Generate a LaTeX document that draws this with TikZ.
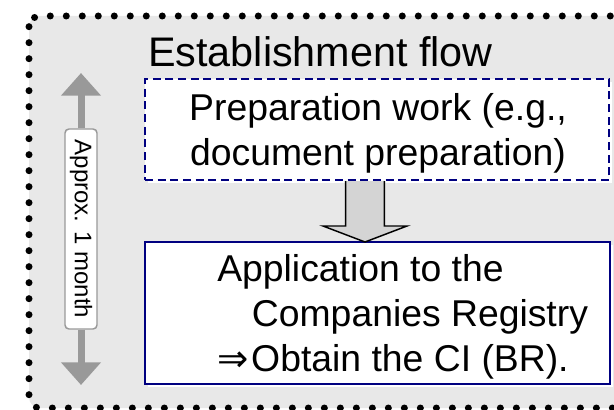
\documentclass[tikz,border=0pt]{standalone}
\usepackage{fontspec}
\setmainfont{Liberation Sans}
\newfontfamily\symfont{DejaVu Sans}
\usepackage{tikz}
\usetikzlibrary{
  arrows.meta,
  positioning,
  calc,
  shadows
}
\definecolor{panelgray}{RGB}{232,232,232}
\definecolor{framenavy}{RGB}{0,0,128}
\definecolor{spangray}{RGB}{153,153,153}
\definecolor{flowgray}{RGB}{212,212,212}

\begin{document}
\begin{tikzpicture}[
  x=0.75pt, y=-0.75pt,
  panel/.style={draw=black, fill=panelgray, line width=5.25pt, line cap=round, dash pattern=on 0pt off 12pt, rounded corners=8pt},
  box/.style={rectangle, draw=framenavy, fill=white, line width=1.5pt, outer sep=0pt, drop shadow={shadow xshift=2pt, shadow yshift=-2.5pt, fill=white, opacity=1}},
  dbox/.style={box, dash pattern=on 6pt off 3.5pt},
  body/.style={font=\fontsize{28pt}{33.75pt}\selectfont, inner sep=0pt},
  heading/.style={font=\fontsize{31pt}{37pt}\selectfont, inner sep=0pt},
  lbl/.style={rectangle, rounded corners=3pt, draw=spangray, line width=1.1pt, fill=white, font=\fontsize{18pt}{21pt}\selectfont, minimum width=150pt, minimum height=24pt, inner sep=0pt, rotate=-90},
  arr/.style={-{Triangle[width=29pt,length=17pt]}, line width=5.25pt, spangray},
  flow/.style={draw=black, fill=flowgray, line width=1.1pt, line join=miter}
]
  \useasboundingbox (0,0) rectangle (614,410);
  \draw[panel] (29,16) rectangle (660,408);

  % time span on the left
  \coordinate (spantop) at (81,73);
  \coordinate (spanbot) at (81,385);
  \node[lbl] (span) at (81,229) {Approx. 1 month};
  \draw[arr] (span.west) -- (spantop);
  \draw[arr] (span.east) -- (spanbot);

  \node[heading, anchor=base west] (head) at (148,67) {Establishment flow};
  \node[dbox, minimum width=348pt, minimum height=75.75pt] (prep) at (377,129.5) {};
  \node[box, minimum width=348.75pt, minimum height=106.5pt] (app) at (377.5,313) {};

  \node[body, align=center] (preptext) at ($(prep.center)+(1,4.3)$) {Preparation work (e.g.,\\document preparation)};
  \node[body, align=left, anchor=west] (apptext) at ($(app.west)+(72,4.3)$) {Application to the\\\hspace*{26pt}Companies Registry\\{\symfont ⇒}\kern2pt Obtain the CI (BR).};

  % block arrow between the steps
  \coordinate (flowtop) at ($(prep.south)+(-12,1)$);
  \coordinate (flowtip) at ($(app.north)+(-12.5,0)$);
  \draw[flow] ($(flowtop)+(-19.3,0)$) -- ($(flowtip)+(-19.3,-16)$) -- ($(flowtip)+(-42,-16)$) -- (flowtip)
    -- ($(flowtip)+(42,-16)$) -- ($(flowtip)+(19.3,-16)$) -- ($(flowtop)+(19.3,0)$);
\end{tikzpicture}
\end{document}
